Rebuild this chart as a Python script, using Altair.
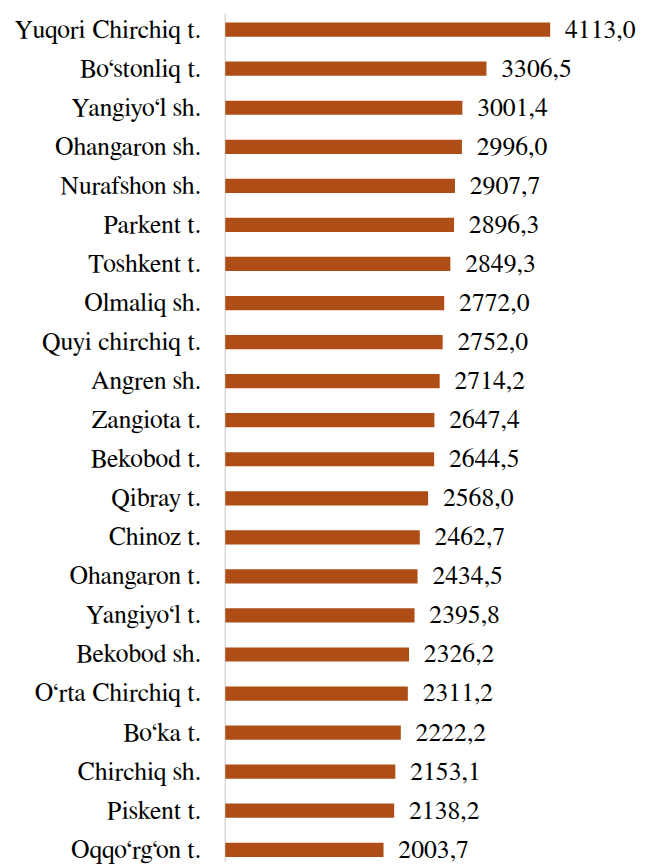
import altair as alt
import pandas as pd

names = [
    "Yuqori Chirchiq t.", "Bo‘stonliq t.", "Yangiyo‘l sh.", "Ohangaron sh.",
    "Nurafshon sh.", "Parkent t.", "Toshkent t.", "Olmaliq sh.",
    "Quyi chirchiq t.", "Angren sh.", "Zangiota t.", "Bekobod t.",
    "Qibray t.", "Chinoz t.", "Ohangaron t.", "Yangiyo‘l t.",
    "Bekobod sh.", "O‘rta Chirchiq t.", "Bo‘ka t.", "Chirchiq sh.",
    "Piskent t.", "Oqqo‘rg‘on t.",
]
values = [
    4113.0, 3306.5, 3001.4, 2996.0, 2907.7, 2896.3, 2849.3, 2772.0,
    2752.0, 2714.2, 2647.4, 2644.5, 2568.0, 2462.7, 2434.5, 2395.8,
    2326.2, 2311.2, 2222.2, 2153.1, 2138.2, 2003.7,
]

df = pd.DataFrame({"name": names, "value": values})

W = 368
H = 859
FONT = "FreeSerif"

xscale = alt.Scale(domain=[0, 4600], nice=False, zero=True)
yscale = alt.Scale(range=[9.3, 854.2], paddingInner=0.636, paddingOuter=0)

base = alt.Chart(df).encode(
    y=alt.Y(
        "name:N",
        sort=names,
        scale=yscale,
        axis=alt.Axis(
            title=None, ticks=False, domain=False, labelFont=FONT,
            labelFontSize=26, labelColor="black", labelPadding=25,
            labelLimit=0,
        ),
    ),
    x=alt.X("value:Q", scale=xscale, axis=None),
)

bars = base.mark_bar(color="#AE4E16")

labels = base.transform_calculate(
    lbl="replace(format(datum.value, '.1f'), '.', ',')"
).mark_text(
    align="left", baseline="middle", dx=15, font=FONT, fontSize=26,
    color="black",
).encode(text="lbl:N")

axis_line = alt.Chart(pd.DataFrame({"v": [0]})).mark_rule(
    color="#d9d9d9", strokeWidth=1.5
).encode(
    x=alt.X("v:Q", scale=xscale, axis=None),
    y=alt.value(0),
    y2=alt.value(H),
)

chart = alt.layer(axis_line, bars, labels).properties(
    width=W,
    height=H,
    autosize=alt.AutoSizeParams(type="none"),
    padding={"left": 220, "top": 0, "right": 52, "bottom": 0},
).configure_view(stroke=None)

chart.save("out.html", embed_options={"renderer": "svg", "actions": False})
